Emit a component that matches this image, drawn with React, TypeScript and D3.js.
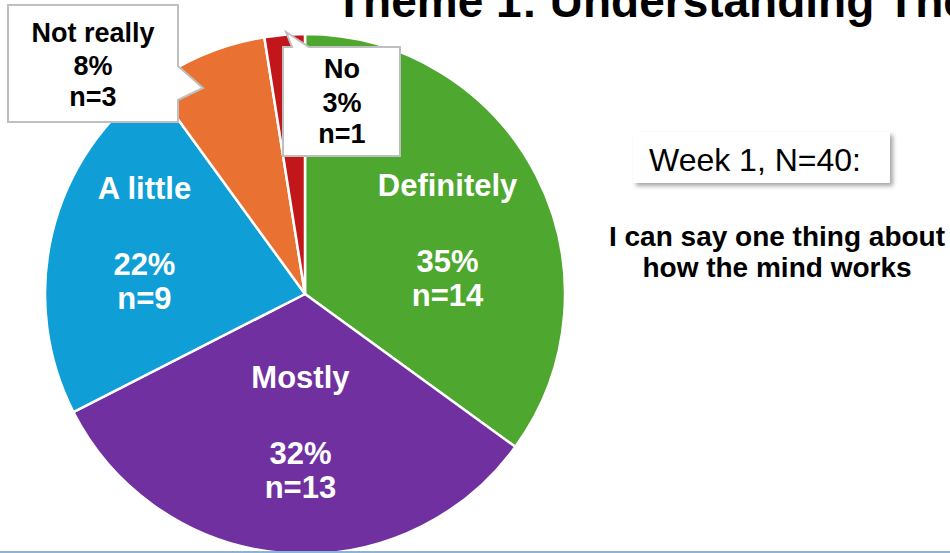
import React from 'react';
import * as d3 from 'd3';

// survey answers, week 1 (N=40)
const categories = ['Definitely', 'Mostly', 'A little', 'Not really', 'No'];
const counts = [14, 13, 9, 3, 1];
const percentLabels = ['35%', '32%', '22%', '8%', '3%'];
const countLabels = ['n=14', 'n=13', 'n=9', 'n=3', 'n=1'];
const sliceColors = ['#4EA72E', '#7030A0', '#0F9ED5', '#E97132', '#C2171A'];

const titleText = 'Theme 1: Understanding The Mind';
const boxText = 'Week 1, N=40:';
const statementLines = ['I can say one thing about', 'how the mind works'];

const width = 950;
const height = 553;
const cx = 305;
const cy = 294;
const radius = 260;
const font = '"Liberation Sans", Arial, sans-serif';

// hand-placed nudges for the inside labels (PowerPoint style)
const labelNudge: Record<string, [number, number]> = {
  Definitely: [0, 40],
  Mostly: [8, 0],
  'A little': [-5, 8],
};

const App = () => {
  const data = categories.map((c, i) => ({
    name: c,
    value: counts[i],
    pct: percentLabels[i],
    n: countLabels[i],
    color: sliceColors[i],
  }));

  const pie = d3.pie<any>().value(d => d.value).sort(null);
  const arcs = pie(data);
  const arc = d3.arc<any>().innerRadius(0).outerRadius(radius);
  const labelArc = d3.arc<any>().innerRadius(160).outerRadius(160);

  const inside = arcs.filter(a => labelNudge[a.data.name]);
  const notReally = arcs.find(a => a.data.name === 'Not really')!;
  const no = arcs.find(a => a.data.name === 'No')!;

  return (
    <svg
      width={width}
      height={height}
      style={{ position: 'absolute', left: 0, top: 0, background: '#fff' }}
      fontFamily={font}
    >
      <defs>
        <filter id="shadow" x="-10%" y="-30%" width="130%" height="170%">
          <feDropShadow dx="3" dy="3" stdDeviation="2" floodColor="#000" floodOpacity="0.35" />
        </filter>
      </defs>

      <g transform={`translate(${cx},${cy})`}>
        {arcs.map(a => (
          <path
            key={a.data.name}
            d={arc(a) as string}
            fill={a.data.color}
            stroke="#fff"
            strokeWidth={2.5}
            strokeLinejoin="round"
          />
        ))}
      </g>

      {inside.map(a => {
        const [x0, y0] = labelArc.centroid(a);
        const [nx, ny] = labelNudge[a.data.name];
        const x = cx + x0 + nx;
        const y = cy + y0 + ny;
        return (
          <g key={a.data.name} fill="#fff" fontWeight="bold" fontSize={31} textAnchor="middle">
            <text x={x} y={y - 76} dy="0.35em">{a.data.name}</text>
            <text x={x} y={y} dy="0.35em">{a.data.pct}</text>
            <text x={x} y={y + 34} dy="0.35em">{a.data.n}</text>
          </g>
        );
      })}

      {/* callout for "Not really" */}
      <path
        d="M8,5 H178 V66 L203,88 L178,100 V122 H8 Z"
        fill="#fff"
        stroke="#BFBFBF"
        strokeWidth={2}
      />
      <g fill="#000" fontWeight="bold" fontSize={27} textAnchor="middle">
        <text x={93} y={42}>{notReally.data.name}</text>
        <text x={93} y={75}>{notReally.data.pct}</text>
        <text x={93} y={106}>{notReally.data.n}</text>
      </g>

      {/* callout for "No" */}
      <path
        d="M283,47 H292 L286,32 L309,47 H400 V156 H283 Z"
        fill="#fff"
        stroke="#BFBFBF"
        strokeWidth={2}
      />
      <g fill="#000" fontWeight="bold" fontSize={27} textAnchor="middle">
        <text x={342} y={78}>{no.data.name}</text>
        <text x={342} y={112}>{no.data.pct}</text>
        <text x={342} y={143}>{no.data.n}</text>
      </g>

      <text x={335} y={17} fontSize={46} fontWeight="bold" fill="#000">{titleText}</text>

      <rect x={633} y={132} width={257} height={51} fill="#fff" filter="url(#shadow)" />
      <text x={649} y={171} fontSize={32} fill="#000">{boxText}</text>

      <g fontWeight="bold" fontSize={28} fill="#000" textAnchor="middle">
        {statementLines.map((l, i) => (
          <text key={l} x={777} y={246 + i * 31}>{l}</text>
        ))}
      </g>

      <rect x={0} y={551} width={width} height={2} fill="#8DB4D4" />
    </svg>
  );
};

export default App;
